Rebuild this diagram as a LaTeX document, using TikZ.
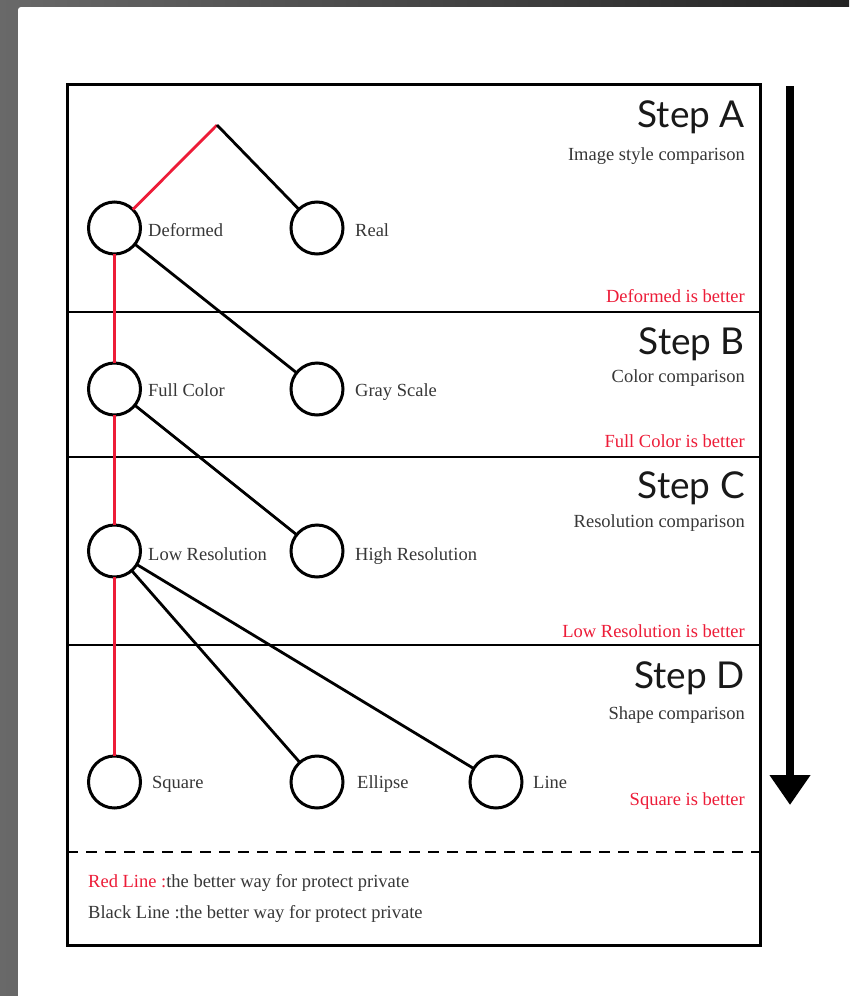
\documentclass[tikz,border=0pt]{standalone}
\usepackage{fontspec}
\setmainfont{Liberation Serif}
\newfontfamily\stepfont{Lato}
\usetikzlibrary{arrows.meta}
\definecolor{myred}{RGB}{237,28,56}
\definecolor{txt}{RGB}{55,55,55}
\definecolor{steptxt}{RGB}{25,25,25}
\begin{document}
\begin{tikzpicture}[x=1pt,y=-1pt,
  bubble/.style={circle,draw=black,line width=3pt,fill=white,minimum size=52pt,inner sep=0pt,outer sep=0pt},
  lbl/.style={anchor=base west,inner sep=0pt,text=txt,font=\fontsize{18.5}{22}\selectfont},
  sub/.style={anchor=base east,inner sep=0pt,text=txt,font=\fontsize{18.5}{22}\selectfont},
  verdict/.style={anchor=base east,inner sep=0pt,text=myred,font=\fontsize{18.5}{22}\selectfont},
  steptitle/.style={anchor=base east,inner sep=0pt,text=steptxt,font=\stepfont\fontsize{37}{40}\selectfont},
  blk/.style={draw=black,line width=2.8pt},
  redl/.style={draw=myred,line width=2.8pt},
  frame/.style={draw=black,line width=3pt},
  divider/.style={draw=black,line width=2.6pt}
]
\useasboundingbox (0,0) rectangle (849,996);
% background
\shade[left color={rgb,255:red,105;green,105;blue,105},right color={rgb,255:red,35;green,35;blue,35}] (0,0) rectangle (849,996);
\fill[white,rounded corners=3pt] (18,7) rectangle (860,1010);

% frame and dividers
\coordinate (fA) at (67,84);
\coordinate (fB) at (760,945);
\draw[frame] (fA) rectangle (fB);
\coordinate (d1l) at (67,312); \coordinate (d1r) at (760,312);
\coordinate (d2l) at (67,457); \coordinate (d2r) at (760,457);
\coordinate (d3l) at (67,645); \coordinate (d3r) at (760,645);
\coordinate (d4l) at (67,852); \coordinate (d4r) at (760,852);
\draw[divider] (d1l) -- (d1r);
\draw[divider] (d2l) -- (d2r);
\draw[divider] (d3l) -- (d3r);
\draw[divider,dash pattern=on 11pt off 8pt] (d4l) -- (d4r);

% big arrow
\coordinate (arrtop) at (790,86);
\coordinate (arrtip) at (790,805);
\draw[line width=7.5pt,-{Triangle[width=39pt,length=30pt]}] (arrtop) -- (arrtip);

% step headings
\node[steptitle] (sA) at (745,127) {Step A};
\node[sub] (sAs) at (745,160) {Image style comparison};
\node[verdict] (sAv) at (745,302) {Deformed is better};
\node[steptitle] (sB) at (745,354) {Step B};
\node[sub] (sBs) at (745,382) {Color comparison};
\node[verdict] (sBv) at (745,447) {Full Color is better};
\node[steptitle] (sC) at (745,498) {Step C};
\node[sub] (sCs) at (745,527) {Resolution comparison};
\node[verdict] (sCv) at (745,637) {Low Resolution is better};
\node[steptitle] (sD) at (745,688) {Step D};
\node[sub] (sDs) at (745,719) {Shape comparison};
\node[verdict] (sDv) at (745,805) {Square is better};

% circles
\coordinate (top) at (217,125);
\node[bubble] (def) at (114.5,228) {};
\node[bubble] (real) at (317,228) {};
\node[bubble] (full) at (114.5,389) {};
\node[bubble] (gray) at (317,389) {};
\node[bubble] (low) at (114.5,551) {};
\node[bubble] (high) at (317,551) {};
\node[bubble] (sq) at (114.5,782) {};
\node[bubble] (ell) at (317,782) {};
\node[bubble] (lin) at (496,782) {};

% labels
\node[lbl] (ldef) at (148,236) {Deformed};
\node[lbl] (lreal) at (355,236) {Real};
\node[lbl] (lfull) at (148,396) {Full Color};
\node[lbl] (lgray) at (355,396) {Gray Scale};
\node[lbl] (llow) at (148,560) {Low Resolution};
\node[lbl] (lhigh) at (355,560) {High Resolution};
\node[lbl] (lsq) at (152,788) {Square};
\node[lbl] (lell) at (357,788) {Ellipse};
\node[lbl] (llin) at (533,788) {Line};

% connectors
\draw[redl] (top) -- (def);
\draw[blk] (top) -- (real);
\draw[blk] (def) -- (gray);
\draw[blk] (full) -- (high);
\draw[blk] (low) -- (ell);
\draw[blk] (low) -- (lin);
\draw[redl] (def) -- (full);
\draw[redl] (full) -- (low);
\draw[redl] (low) -- (sq);

% legend
\node[lbl] (leg1) at (88,887) {\textcolor{myred}{Red Line :}the better way for protect private};
\node[lbl] (leg2) at (88,918) {Black Line :the better way for protect private};
\end{tikzpicture}
\end{document}
